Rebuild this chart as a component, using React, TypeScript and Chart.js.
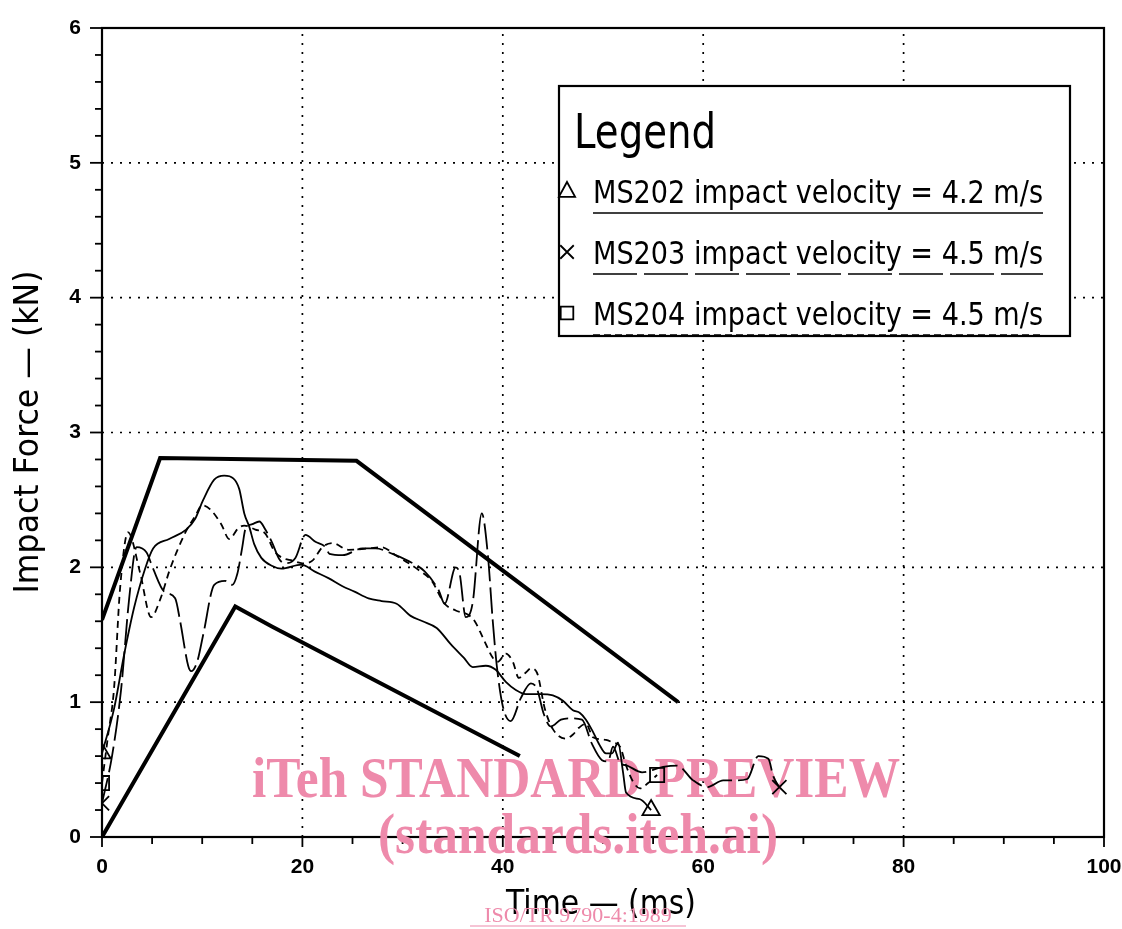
import React, { useEffect, useRef } from 'react';
import { Chart, registerables } from 'chart.js';

Chart.register(...registerables);

// ---- axis ticks ----
const xTickValues = [0, 20, 40, 60, 80, 100];
const yTickValues = [0, 1, 2, 3, 4, 5, 6];
const xMinorStep = 5;
const yMinorStep = 0.2;

// ---- series: MS202 (solid, triangle) ----
const ms202Time = [0, 1.2, 2.2, 3.2, 4.3, 5.1, 6.7, 8.4, 9.3, 10.1, 11.2, 12.2, 13.1, 13.7, 14.2, 14.7, 15.2, 15.9, 17.0, 17.9, 19.9, 21.2, 22.6, 24.0, 25.2, 26.6, 27.9, 29.4, 30.8, 32.0, 33.4, 34.8, 36.1, 37.0, 38.3, 39.3, 40.3, 41.3, 42.3, 43.7, 45.0, 46.0, 47.0, 47.7, 48.3, 49.0, 49.6, 50.3, 50.9, 51.5, 52.0, 52.3, 53.7, 54.8];
const ms202Force = [0.62, 0.95, 1.35, 1.7, 1.99, 2.14, 2.21, 2.28, 2.36, 2.5, 2.65, 2.68, 2.66, 2.58, 2.4, 2.3, 2.17, 2.07, 2.01, 1.99, 2.02, 1.97, 1.92, 1.86, 1.82, 1.77, 1.75, 1.73, 1.64, 1.6, 1.55, 1.43, 1.33, 1.26, 1.27, 1.24, 1.15, 1.09, 1.06, 1.06, 1.05, 1.01, 0.94, 0.92, 0.87, 0.78, 0.69, 0.62, 0.62, 0.7, 0.48, 0.33, 0.28, 0.2];

// ---- series: MS203 (long dash, cross) ----
const ms203Time = [0, 1.0, 1.9, 2.7, 3.45, 4.45, 5.1, 6.2, 7.3, 7.8, 8.6, 8.9, 9.5, 10.1, 11.2, 12.3, 13.0, 13.5, 14.0, 14.3, 15.0, 15.7, 16.3, 17.0, 17.7, 18.3, 19.3, 20.3, 21.3, 22.3, 22.7, 24.0, 26.0, 27.3, 29.0, 30.5, 32.2, 33.6, 34.2, 35.3, 35.7, 36.3, 37.0, 37.9, 38.5, 39.0, 39.4, 40.0, 40.8, 41.8, 42.8, 43.4, 44.1, 44.8, 45.8, 46.8, 47.9, 48.9, 49.9, 50.5, 51.0, 51.7, 52.4, 53.9, 56.0, 57.4, 59.0, 60.4, 62.0, 63.4, 64.4, 65.5, 66.5, 67.0, 67.6];
const ms203Force = [0.25, 0.6, 1.09, 1.76, 2.15, 2.11, 1.99, 1.82, 1.77, 1.6, 1.27, 1.23, 1.3, 1.5, 1.87, 1.9, 1.87, 1.95, 2.15, 2.28, 2.32, 2.34, 2.28, 2.18, 2.06, 2.03, 2.07, 2.24, 2.19, 2.15, 2.1, 2.09, 2.14, 2.14, 2.1, 2.05, 1.97, 1.83, 1.73, 2.0, 1.95, 1.63, 1.74, 2.4, 2.1, 1.6, 1.27, 0.97, 0.86, 1.03, 1.14, 1.1, 0.91, 0.82, 0.87, 0.88, 0.87, 0.69, 0.57, 0.56, 0.67, 0.55, 0.53, 0.48, 0.52, 0.53, 0.42, 0.37, 0.42, 0.42, 0.43, 0.6, 0.58, 0.45, 0.37];

// ---- series: MS204 (short dash, square) ----
const ms204Time = [0, 0.6, 1.2, 1.8, 2.6, 3.8, 4.9, 5.8, 6.8, 8.4, 9.3, 10.0, 10.8, 11.9, 12.7, 13.6, 14.2, 15.3, 16.3, 17.2, 18.0, 19.0, 20.0, 21.0, 22.0, 23.0, 24.6, 26.6, 27.9, 29.3, 31.6, 32.9, 34.2, 35.3, 36.5, 37.2, 38.0, 39.0, 39.5, 40.3, 41.0, 41.6, 42.3, 42.8, 43.4, 44.2, 45.0, 46.3, 47.0, 47.6, 48.3, 49.0, 50.3, 51.0, 51.7, 52.3, 53.0, 53.7, 54.5, 55.4];
const ms204Force = [0.4, 0.75, 1.1, 1.84, 2.26, 1.96, 1.63, 1.76, 1.99, 2.27, 2.38, 2.46, 2.43, 2.32, 2.21, 2.29, 2.31, 2.28, 2.25, 2.12, 2.07, 2.05, 2.03, 2.05, 2.15, 2.18, 2.13, 2.14, 2.15, 2.09, 1.98, 1.9, 1.73, 1.68, 1.65, 1.6, 1.48, 1.33, 1.3, 1.36, 1.3, 1.18, 1.22, 1.25, 1.22, 0.95, 0.8, 0.73, 0.76, 0.81, 0.84, 0.74, 0.72, 0.7, 0.67, 0.53, 0.41, 0.36, 0.4, 0.46];

// ---- corridor limits (thick lines) ----
const upperLimitTime = [0, 5.8, 25.4, 57.5];
const upperLimitForce = [1.61, 2.81, 2.79, 1.0];
const lowerLimitTime = [0, 13.3, 17.0, 41.7];
const lowerLimitForce = [0, 1.71, 1.56, 0.6];

const legendLabels = [
  'MS202 impact velocity = 4.2 m/s',
  'MS203 impact velocity = 4.5 m/s',
  'MS204 impact velocity = 4.5 m/s',
];

const xTitle = 'Time \u2014 (ms)';
const yTitle = 'Impact Force \u2014 (kN)';
const watermark1 = 'iTeh STANDARD PREVIEW';
const watermark2 = '(standards.iteh.ai)';
const watermark3 = 'ISO/TR 9790-4:1989';

const PINK = '#ee8aab';
const SANS = '"DejaVu Sans", "Liberation Sans", sans-serif';

const toPoints = (t: number[], f: number[]) => t.map((x, i) => ({ x, y: f[i] }));

const endMarker = (n: number, r: number) => (ctx: any) =>
  ctx.dataIndex === 0 || ctx.dataIndex === n - 1 ? r : 0;

function drawMarker(ctx: CanvasRenderingContext2D, kind: string, cx: number, cy: number, r: number) {
  ctx.beginPath();
  if (kind === 'triangle') {
    ctx.moveTo(cx, cy - r);
    ctx.lineTo(cx + r * 0.9, cy + r * 0.65);
    ctx.lineTo(cx - r * 0.9, cy + r * 0.65);
    ctx.closePath();
  } else if (kind === 'cross') {
    ctx.moveTo(cx - r * 0.75, cy - r * 0.75);
    ctx.lineTo(cx + r * 0.75, cy + r * 0.75);
    ctx.moveTo(cx + r * 0.75, cy - r * 0.75);
    ctx.lineTo(cx - r * 0.75, cy + r * 0.75);
  } else {
    ctx.rect(cx - r * 0.7, cy - r * 0.7, r * 1.4, r * 1.4);
  }
  ctx.stroke();
}

const decorPlugin = {
  id: 'decor',
  beforeDatasetsDraw(chart: any) {
    const { ctx, chartArea: a, scales } = chart;
    const xs = scales.x;
    const ys = scales.y;
    ctx.save();
    ctx.strokeStyle = '#000';
    // dotted grid
    ctx.lineWidth = 1.7;
    ctx.setLineDash([2, 7]);
    xTickValues.slice(1, -1).forEach((v) => {
      const px = xs.getPixelForValue(v);
      ctx.beginPath();
      ctx.moveTo(px, a.bottom);
      ctx.lineTo(px, a.top);
      ctx.stroke();
    });
    yTickValues.slice(1, -1).forEach((v) => {
      const py = ys.getPixelForValue(v);
      ctx.beginPath();
      ctx.moveTo(a.left, py);
      ctx.lineTo(a.right, py);
      ctx.stroke();
    });
    ctx.setLineDash([]);
    // frame
    ctx.lineWidth = 2.2;
    ctx.strokeRect(a.left, a.top, a.right - a.left, a.bottom - a.top);
    // ticks
    ctx.lineWidth = 1.8;
    for (let v = xs.min; v <= xs.max + 1e-6; v += xMinorStep) {
      const major = xTickValues.includes(Math.round(v));
      const px = xs.getPixelForValue(v);
      ctx.beginPath();
      ctx.moveTo(px, a.bottom);
      ctx.lineTo(px, a.bottom + (major ? 10 : 7));
      ctx.stroke();
    }
    for (let i = 0; i <= Math.round((ys.max - ys.min) / yMinorStep); i++) {
      const v = ys.min + i * yMinorStep;
      const major = Math.abs(v - Math.round(v)) < 1e-6;
      const py = ys.getPixelForValue(v);
      ctx.beginPath();
      ctx.moveTo(a.left - (major ? 12 : 7), py);
      ctx.lineTo(a.left, py);
      ctx.stroke();
    }
    // watermark (under the curves)
    ctx.fillStyle = PINK;
    ctx.textAlign = 'center';
    ctx.textBaseline = 'alphabetic';
    ctx.font = 'bold 58px "Liberation Serif", "DejaVu Serif", serif';
    ctx.fillText(watermark1, 576, 797, 648);
    ctx.font = 'bold 56px "Liberation Serif", "DejaVu Serif", serif';
    ctx.fillText(watermark2, 578, 853, 400);
    ctx.restore();
  },
  afterDraw(chart: any) {
    const { ctx, chartArea: a } = chart;
    ctx.save();
    ctx.fillStyle = '#000';
    ctx.strokeStyle = '#000';
    // axis titles
    ctx.textAlign = 'center';
    ctx.textBaseline = 'middle';
    ctx.font = `34px ${SANS}`;
    ctx.fillText(xTitle, (a.left + a.right) / 2 - 2, 905, 190);
    ctx.save();
    ctx.translate(29, 432);
    ctx.rotate(-Math.PI / 2);
    ctx.fillText(yTitle, 0, 0, 323);
    ctx.restore();

    // legend box
    const bx = 559, by = 86, bw = 511, bh = 250;
    ctx.fillStyle = '#fff';
    ctx.fillRect(bx, by, bw, bh);
    ctx.lineWidth = 2.2;
    ctx.strokeRect(bx, by, bw, bh);
    ctx.fillStyle = '#000';
    ctx.textAlign = 'left';
    ctx.textBaseline = 'alphabetic';
    ctx.font = `48px ${SANS}`;
    ctx.fillText('Legend', 574, 148, 142);
    const kinds = ['triangle', 'cross', 'square'];
    const dashes = [[], [44, 7], [7, 4]];
    legendLabels.forEach((label, i) => {
      const base = 203 + i * 61;
      ctx.lineWidth = 1.8;
      ctx.setLineDash([]);
      drawMarker(ctx, kinds[i], 567, base - 12, 9);
      ctx.font = `32px ${SANS}`;
      ctx.fillText(label, 593, base, 450);
      ctx.setLineDash(dashes[i]);
      ctx.lineWidth = 1.6;
      ctx.beginPath();
      ctx.moveTo(593, base + 10);
      ctx.lineTo(1043, base + 10);
      ctx.stroke();
    });
    ctx.setLineDash([]);

    // bottom watermark reference
    ctx.fillStyle = PINK;
    ctx.strokeStyle = PINK;
    ctx.textAlign = 'center';
    ctx.font = '22px "Liberation Serif", "DejaVu Serif", serif';
    ctx.fillText(watermark3, 578, 922, 216);
    ctx.lineWidth = 1.2;
    ctx.beginPath();
    ctx.moveTo(470, 926);
    ctx.lineTo(686, 926);
    ctx.stroke();
    ctx.restore();
  },
};

export default function App() {
  const canvasRef = useRef<HTMLCanvasElement | null>(null);

  useEffect(() => {
    if (!canvasRef.current) return;
    const series = [
      { t: ms202Time, f: ms202Force, dash: [] as number[], style: 'triangle' },
      { t: ms203Time, f: ms203Force, dash: [26, 6], style: 'crossRot' },
      { t: ms204Time, f: ms204Force, dash: [7, 5], style: 'rect' },
    ];
    const dataDatasets = series.map((s) => ({
      data: toPoints(s.t, s.f),
      borderColor: '#000',
      borderWidth: 1.8,
      borderDash: s.dash,
      cubicInterpolationMode: 'monotone' as const,
      pointStyle: s.style,
      pointRadius: endMarker(s.t.length, 10),
      pointBorderWidth: 1.8,
      pointBorderColor: '#000',
      pointBackgroundColor: 'rgba(0,0,0,0)',
      fill: false,
    }));
    const limitDatasets = [
      { t: upperLimitTime, f: upperLimitForce },
      { t: lowerLimitTime, f: lowerLimitForce },
    ].map((s) => ({
      data: toPoints(s.t, s.f),
      borderColor: '#000',
      borderWidth: 4,
      tension: 0,
      pointRadius: 0,
      fill: false,
    }));

    const tickFont = { family: '"Liberation Sans", Arial, sans-serif', size: 21, weight: 'bold' as const };

    const chart = new Chart(canvasRef.current, {
      type: 'line',
      data: { datasets: [...limitDatasets, ...dataDatasets] as any },
      options: {
        animation: false,
        responsive: true,
        maintainAspectRatio: false,
        layout: { padding: { top: 28, right: 18, left: 0, bottom: 0 } },
        plugins: { legend: { display: false }, tooltip: { enabled: false } },
        scales: {
          x: {
            type: 'linear',
            min: 0,
            max: 100,
            grid: { display: false, drawTicks: false },
            border: { display: false },
            ticks: { stepSize: 20, color: '#000', font: tickFont, padding: 18, maxRotation: 0 },
            afterFit: (s: any) => {
              s.height = 92;
              s.paddingLeft = 0;
              s.paddingRight = 0;
            },
          },
          y: {
            type: 'linear',
            min: 0,
            max: 6,
            grid: { display: false, drawTicks: false },
            border: { display: false },
            ticks: { stepSize: 1, color: '#000', font: tickFont, padding: 21 },
            afterFit: (s: any) => {
              s.width = 102;
              s.paddingTop = 0;
              s.paddingBottom = 0;
            },
          },
        },
      },
      plugins: [decorPlugin],
    });
    return () => chart.destroy();
  }, []);

  return (
    <div style={{ position: 'fixed', left: 0, top: 0, width: 1122, height: 929, background: '#fff' }}>
      <canvas ref={canvasRef} />
    </div>
  );
}
